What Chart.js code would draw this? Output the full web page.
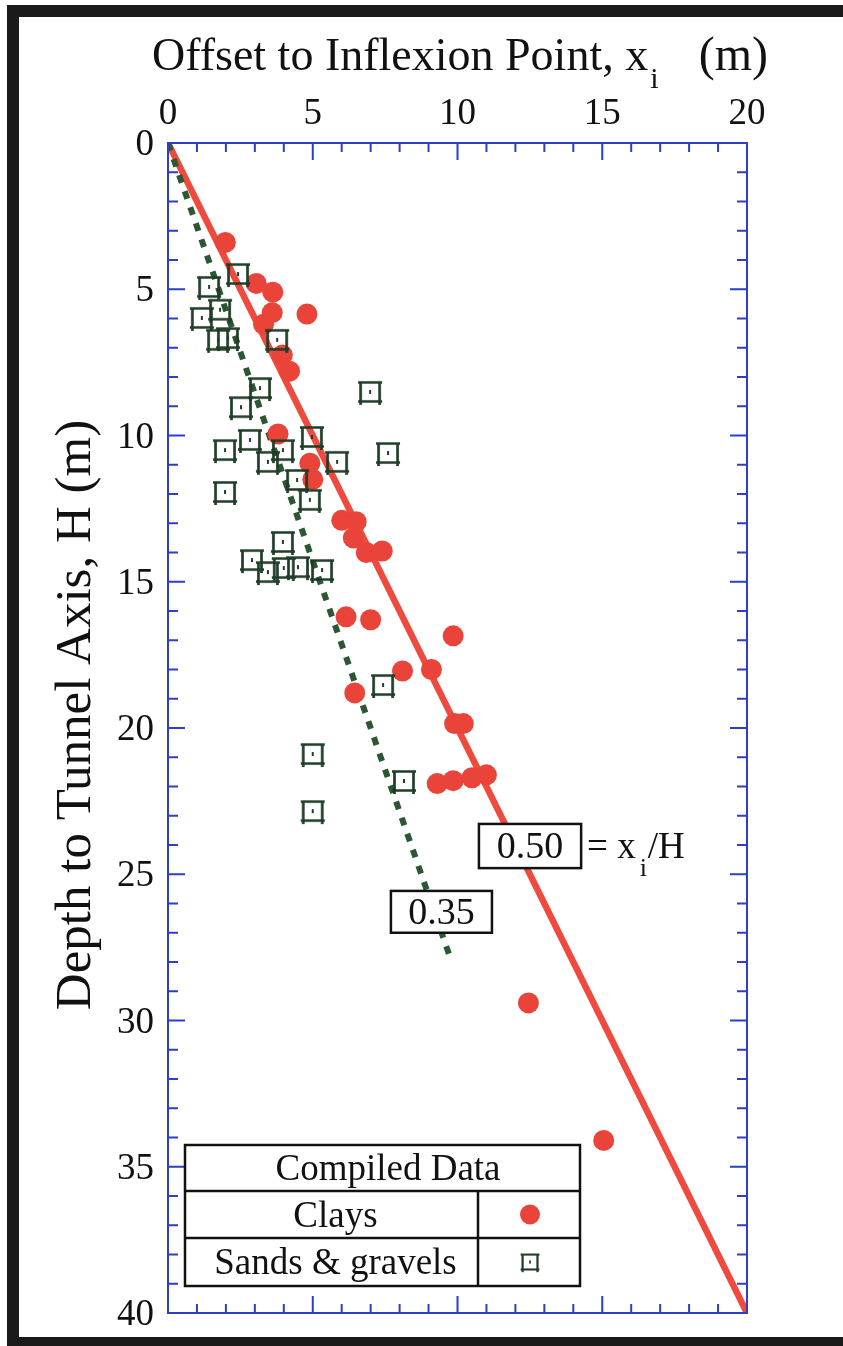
<!DOCTYPE html>
<html>
<head>
<meta charset="utf-8">
<script src="https://cdn.jsdelivr.net/npm/chart.js@4"></script>
<style>
html,body{margin:0;padding:0;background:#fff;}
canvas{display:block;}
</style>
</head>
<body>
<canvas id="c" width="843" height="1346"></canvas>
<script>
// ---- data ----
const clayX = [1.98,3.05,3.62,3.60,4.80,3.30,3.95,4.20,3.80,4.90,5.00,6.00,6.50,6.40,6.85,7.40,6.15,7.00,9.85,8.10,9.10,6.45,9.90,10.20,9.30,9.85,10.50,11.00,12.45,15.05];
const clayH = [3.40,4.80,5.10,5.80,5.85,6.20,7.25,7.80,9.95,10.95,11.50,12.90,12.95,13.50,14.00,13.95,16.20,16.30,16.85,18.05,18.00,18.80,19.85,19.85,21.90,21.80,21.70,21.60,29.40,34.10];
const sandX = [2.42,1.42,1.80,1.17,1.73,2.07,3.77,3.18,2.52,6.98,2.83,1.97,3.97,3.45,4.97,7.60,5.84,4.46,4.90,1.97,3.97,2.90,3.45,4.00,4.49,5.32,7.43,5.00,8.15,5.00];
const sandH = [4.48,4.92,5.70,5.98,6.73,6.67,6.73,8.38,9.03,8.51,10.15,10.50,10.50,10.90,10.05,10.60,10.90,11.52,12.20,11.93,13.64,14.26,14.67,14.53,14.50,14.60,18.53,20.89,21.81,22.84];
const ratioClay = 0.50;   // x_i / H
const ratioSand = 0.35;
const clayLineH = [0, 40];
const sandLineH = [0, 28];
const xTicks = [0,5,10,15,20];
const yTicks = [0,5,10,15,20,25,30,35,40];
const xTitle = "Offset to Inflexion Point, x";
const yTitle = "Depth to Tunnel Axis, H (m)";
const legendTitle = "Compiled Data";
const legendNames = ["Clays","Sands & gravels"];
const ratioLabels = ["0.50","0.35"];

// ---- styles ----
const RED = '#ea4339';
const REDLINE = '#ef4a3e';
const GREEN = '#1f3d27';
const GREENLINE = '#2b5732';
const BLUE = '#2d3fc6';
const SERIF = '"Liberation Serif","DejaVu Serif",serif';

function makeSquare(){
  const s = 28, cv = document.createElement('canvas');
  cv.width = s; cv.height = s;
  const g = cv.getContext('2d');
  g.strokeStyle = GREEN; g.lineWidth = 2.7;
  const a = 4.5, b = 23.5;
  g.beginPath();
  g.moveTo(a-2.5, a); g.lineTo(b+2.5, a);
  g.moveTo(a-2.5, b); g.lineTo(b+2.5, b);
  g.moveTo(a, a-1); g.lineTo(a, b+3.5);
  g.moveTo(b, a-1); g.lineTo(b, b+3.5);
  g.stroke();
  g.fillStyle = GREEN;
  g.fillRect(13, 12, 2, 4);
  return cv;
}
const sq = makeSquare();

const clayPts = clayX.map((x,i)=>({x:x, y:clayH[i]}));
const sandPts = sandX.map((x,i)=>({x:x, y:sandH[i]}));
const clayLine = clayLineH.map(h=>({x:ratioClay*h, y:h}));
const sandLine = sandLineH.map(h=>({x:ratioSand*h, y:h}));

const deco = {
  id: 'deco',
  beforeDraw(chart){
    const ctx = chart.ctx;
    ctx.save(); ctx.fillStyle = '#fff'; ctx.fillRect(0,0,chart.width,chart.height); ctx.restore();
  },
  afterDraw(chart){
    const ctx = chart.ctx;
    const xs = chart.scales.x, ys = chart.scales.y;
    const L = xs.getPixelForValue(0), R = xs.getPixelForValue(20);
    const T = ys.getPixelForValue(0), B = ys.getPixelForValue(40);
    ctx.save();
    // axes box
    ctx.strokeStyle = BLUE; ctx.lineWidth = 2;
    ctx.strokeRect(L, T, R-L, B-T);
    ctx.beginPath();
    for (let v=0; v<=20; v++){
      const px = xs.getPixelForValue(v);
      const len = (v%5===0) ? 17 : 9;
      ctx.moveTo(px, T); ctx.lineTo(px, T+len);
      ctx.moveTo(px, B); ctx.lineTo(px, B-len);
    }
    for (let v=0; v<=40; v++){
      const py = ys.getPixelForValue(v);
      const len = (v%5===0) ? 17 : 10;
      ctx.moveTo(L, py); ctx.lineTo(L+len, py);
      ctx.moveTo(R, py); ctx.lineTo(R-len, py);
    }
    ctx.stroke();
    // tick labels
    ctx.fillStyle = '#111';
    ctx.font = '37px ' + SERIF;
    ctx.textAlign = 'center'; ctx.textBaseline = 'alphabetic';
    xTicks.forEach(v=>{
      ctx.fillText(String(v), xs.getPixelForValue(v), T-19);
    });
    ctx.textAlign = 'right';
    yTicks.forEach(v=>{
      ctx.fillText(String(v), L-14, ys.getPixelForValue(v)+12);
    });
    // x title
    ctx.textAlign = 'left';
    ctx.font = '46px ' + SERIF;
    ctx.fillText(xTitle, 152, 70);
    const w1 = ctx.measureText(xTitle).width;
    ctx.font = '30px ' + SERIF;
    ctx.fillText('i', 152 + w1 + 2, 88);
    ctx.font = '48px ' + SERIF;
    ctx.textAlign = 'right';
    ctx.fillText('(m)', 768, 70);
    // y title
    ctx.save();
    ctx.translate(90, 715);
    ctx.rotate(-Math.PI/2);
    ctx.textAlign = 'center';
    ctx.font = '51px ' + SERIF;
    ctx.fillText(yTitle, 0, 0);
    ctx.restore();
    // ratio labels (boxes anchored in data coordinates)
    function box(x0,h0,x1,h1,txt){
      const a = xs.getPixelForValue(x0), b = ys.getPixelForValue(h0);
      const c = xs.getPixelForValue(x1), d = ys.getPixelForValue(h1);
      ctx.fillStyle = '#fff'; ctx.fillRect(a,b,c-a,d-b);
      ctx.strokeStyle = '#111'; ctx.lineWidth = 2.5;
      ctx.strokeRect(a,b,c-a,d-b);
      ctx.fillStyle = '#111';
      ctx.font = '38px ' + SERIF; ctx.textAlign = 'center';
      ctx.fillText(txt, (a+c)/2, (b+d)/2 + 12);
      return [a,b,c,d];
    }
    const r1 = box(10.74, 23.28, 14.27, 24.79, ratioLabels[0]);
    box(7.70, 25.57, 11.19, 27.00, ratioLabels[1]);
    ctx.textAlign = 'left';
    ctx.font = '37px ' + SERIF;
    const by = (r1[1]+r1[3])/2 + 12;
    ctx.fillText('= x', r1[2] + 6, by);
    const wq = ctx.measureText('= x').width;
    ctx.font = '26px ' + SERIF;
    ctx.fillText('i', r1[2] + 6 + wq + 4, by + 18);
    ctx.font = '37px ' + SERIF;
    ctx.fillText('/H', r1[2] + 6 + wq + 12, by);
    // legend table
    const lx0 = 185, lx1 = 580, ly0 = 1145, ly1 = 1191, ly2 = 1238, ly3 = 1286, lc = 478;
    ctx.fillStyle = '#fff'; ctx.fillRect(lx0, ly0, lx1-lx0, ly3-ly0);
    ctx.strokeStyle = '#111'; ctx.lineWidth = 2.5;
    ctx.strokeRect(lx0, ly0, lx1-lx0, ly3-ly0);
    ctx.beginPath();
    ctx.moveTo(lx0, ly1); ctx.lineTo(lx1, ly1);
    ctx.moveTo(lx0, ly2); ctx.lineTo(lx1, ly2);
    ctx.moveTo(lc, ly1); ctx.lineTo(lc, ly3);
    ctx.stroke();
    ctx.fillStyle = '#111'; ctx.textAlign = 'center';
    ctx.font = '37px ' + SERIF;
    ctx.fillText(legendTitle, 388, (ly0+ly1)/2 + 12);
    ctx.fillText(legendNames[0], (lx0+lc)/2 + 4, (ly1+ly2)/2 + 12);
    ctx.fillText(legendNames[1], (lx0+lc)/2 + 4, (ly2+ly3)/2 + 12);
    ctx.fillStyle = RED;
    ctx.beginPath(); ctx.arc(530, (ly1+ly2)/2, 10, 0, Math.PI*2); ctx.fill();
    ctx.drawImage(sq, 530-11, (ly2+ly3)/2 - 11, 22, 22);
    // outer frame
    ctx.fillStyle = '#1a1a1a';
    ctx.fillRect(7, 5, 843-7, 12);
    ctx.fillRect(7, 5, 12, 1346-5);
    ctx.fillRect(7, 1337, 843-7, 9);
    ctx.restore();
  }
};

new Chart(document.getElementById('c'), {
  type: 'scatter',
  data: {
    datasets: [
      { label: 'Clays', data: clayPts, backgroundColor: RED, borderColor: RED, pointRadius: 10.5, pointBorderWidth: 0, order: 2 },
      { label: 'Sands & gravels', data: sandPts, pointStyle: sq, pointRadius: 14, order: 1 },
      { label: 'x/H=0.50', type: 'line', data: clayLine, borderColor: REDLINE, borderWidth: 6.5, pointRadius: 0, fill: false, order: 4 },
      { label: 'x/H=0.35', type: 'line', data: sandLine, borderColor: GREENLINE, borderWidth: 6, borderDash: [8, 9], pointRadius: 0, fill: false, order: 3 }
    ]
  },
  options: {
    responsive: false,
    animation: false,
    devicePixelRatio: 1,
    layout: { padding: { left: 168, top: 143, right: 96, bottom: 33 } },
    plugins: { legend: { display: false }, tooltip: { enabled: false } },
    scales: {
      x: { type: 'linear', position: 'top', min: 0, max: 20, display: false, ticks: { stepSize: 5 } },
      y: { type: 'linear', reverse: true, min: 0, max: 40, display: false, ticks: { stepSize: 5 } }
    }
  },
  plugins: [deco]
});
</script>
</body>
</html>
